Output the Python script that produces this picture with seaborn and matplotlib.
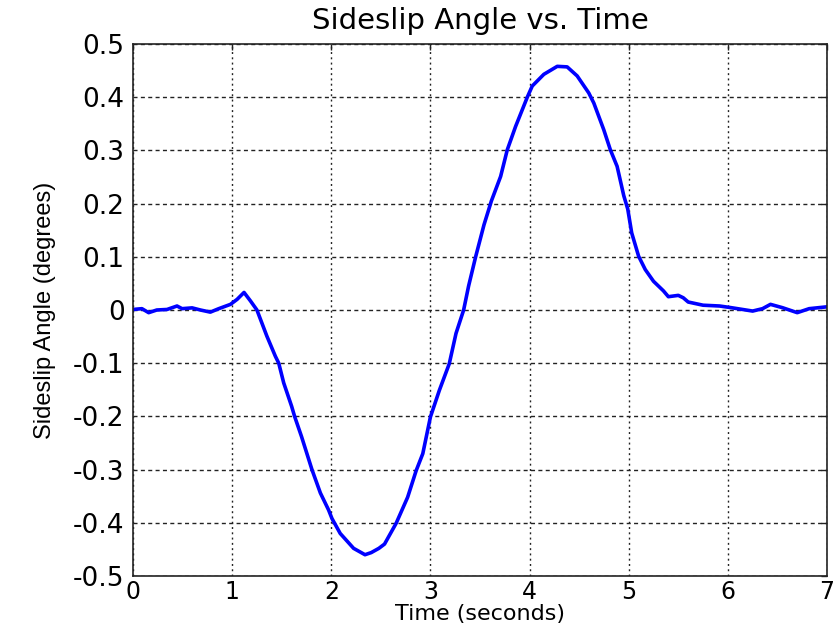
import matplotlib
matplotlib.use("Agg")
import matplotlib.pyplot as plt
import seaborn as sns
import pandas as pd

# Sideslip angle trace (degrees) over time (seconds)
time_s = [
    0.00, 0.09, 0.158, 0.24, 0.343, 0.444, 0.495, 0.596, 0.68, 0.78,
    0.865, 0.983, 1.05, 1.12, 1.185, 1.25, 1.35, 1.436, 1.47, 1.52,
    1.60, 1.63, 1.70, 1.805, 1.89, 1.973, 2.007, 2.09, 2.225, 2.34,
    2.403, 2.48, 2.537, 2.654, 2.77, 2.856, 2.923, 3.00, 3.09, 3.19,
    3.258, 3.335, 3.385, 3.456, 3.54, 3.615, 3.708, 3.775, 3.859, 3.977,
    4.027, 4.144, 4.279, 4.379, 4.48, 4.597, 4.648, 4.748, 4.815, 4.883,
    4.95, 4.99, 5.03, 5.10, 5.167, 5.25, 5.35, 5.40, 5.50, 5.55,
    5.60, 5.75, 5.917, 6.033, 6.25, 6.35, 6.43, 6.55, 6.70, 6.82, 7.00,
]
sideslip_deg = [
    0.001, 0.0025, -0.005, 0.000, 0.001, 0.0075, 0.0025, 0.004, 0.000, -0.004,
    0.0025, 0.0106, 0.020, 0.033, 0.017, 0.000, -0.049, -0.087, -0.100, -0.137,
    -0.181, -0.200, -0.238, -0.300, -0.344, -0.376, -0.392, -0.420, -0.448, -0.460,
    -0.456, -0.448, -0.440, -0.401, -0.352, -0.302, -0.270, -0.201, -0.151, -0.101,
    -0.044, 0.000, 0.045, 0.100, 0.160, 0.205, 0.251, 0.301, 0.345, 0.400,
    0.421, 0.443, 0.458, 0.457, 0.440, 0.408, 0.389, 0.339, 0.301, 0.270,
    0.215, 0.190, 0.145, 0.101, 0.076, 0.054, 0.036, 0.025, 0.0275, 0.023,
    0.015, 0.009, 0.0075, 0.0044, -0.002, 0.0025, 0.0106, 0.0044, -0.005, 0.0025, 0.006,
]

x_ticks = [0, 1, 2, 3, 4, 5, 6, 7]
y_ticks = [-0.5, -0.4, -0.3, -0.2, -0.1, 0, 0.1, 0.2, 0.3, 0.4, 0.5]
y_tick_labels = ["-0.5", "-0.4", "-0.3", "-0.2", "-0.1", "0",
                 "0.1", "0.2", "0.3", "0.4", "0.5"]

title_text = "Sideslip Angle vs. Time"
x_label = "Time (seconds)"
y_label = "Sideslip Angle (degrees)"

sns.set_style("white")
plt.rcParams["font.family"] = ["DejaVu Sans"]
plt.rcParams["axes.unicode_minus"] = False

df = pd.DataFrame({"t": time_s, "beta": sideslip_deg})

fig = plt.figure(figsize=(8.33, 6.34), dpi=100)
W, H = 833, 634
left, right, top, bottom = 133, 827, 44, 576
ax = fig.add_axes([left / W, 1 - bottom / H, (right - left) / W, (bottom - top) / H])

sns.lineplot(data=df, x="t", y="beta", ax=ax, color="#0000ff", linewidth=2.6)

ax.set_xlim(0, 7)
ax.set_ylim(-0.5, 0.5)
ax.set_xticks(x_ticks)
ax.set_xticklabels([str(v) for v in x_ticks])
ax.set_yticks(y_ticks)
ax.set_yticklabels(y_tick_labels)

# grid: dotted verticals, dashed horizontals
ax.xaxis.grid(True, color="#222222", linewidth=1.0, linestyle=(0, (1.4, 2.4)))
ax.yaxis.grid(True, color="#222222", linewidth=1.0, linestyle=(0, (2.9, 2.4)))
ax.set_axisbelow(True)

for s in ax.spines.values():
    s.set_visible(True)
    s.set_color("#222222")
    s.set_linewidth(1.2)

ax.tick_params(axis="both", which="both", direction="in", length=4.5, width=1.0,
               top=True, right=True, colors="#222222", labelcolor="black")
ax.tick_params(axis="y", labelsize=19, pad=6)
ax.tick_params(axis="x", labelsize=17, pad=3)

ax.set_title(title_text, fontsize=21, pad=11, color="black")
ax.set_xlabel(x_label, fontsize=16, labelpad=0, color="black")
ax.set_ylabel(y_label, fontsize=17, labelpad=12, color="black",
              family=["Liberation Sans"])

fig.savefig("out.png", dpi=100, facecolor="white")
